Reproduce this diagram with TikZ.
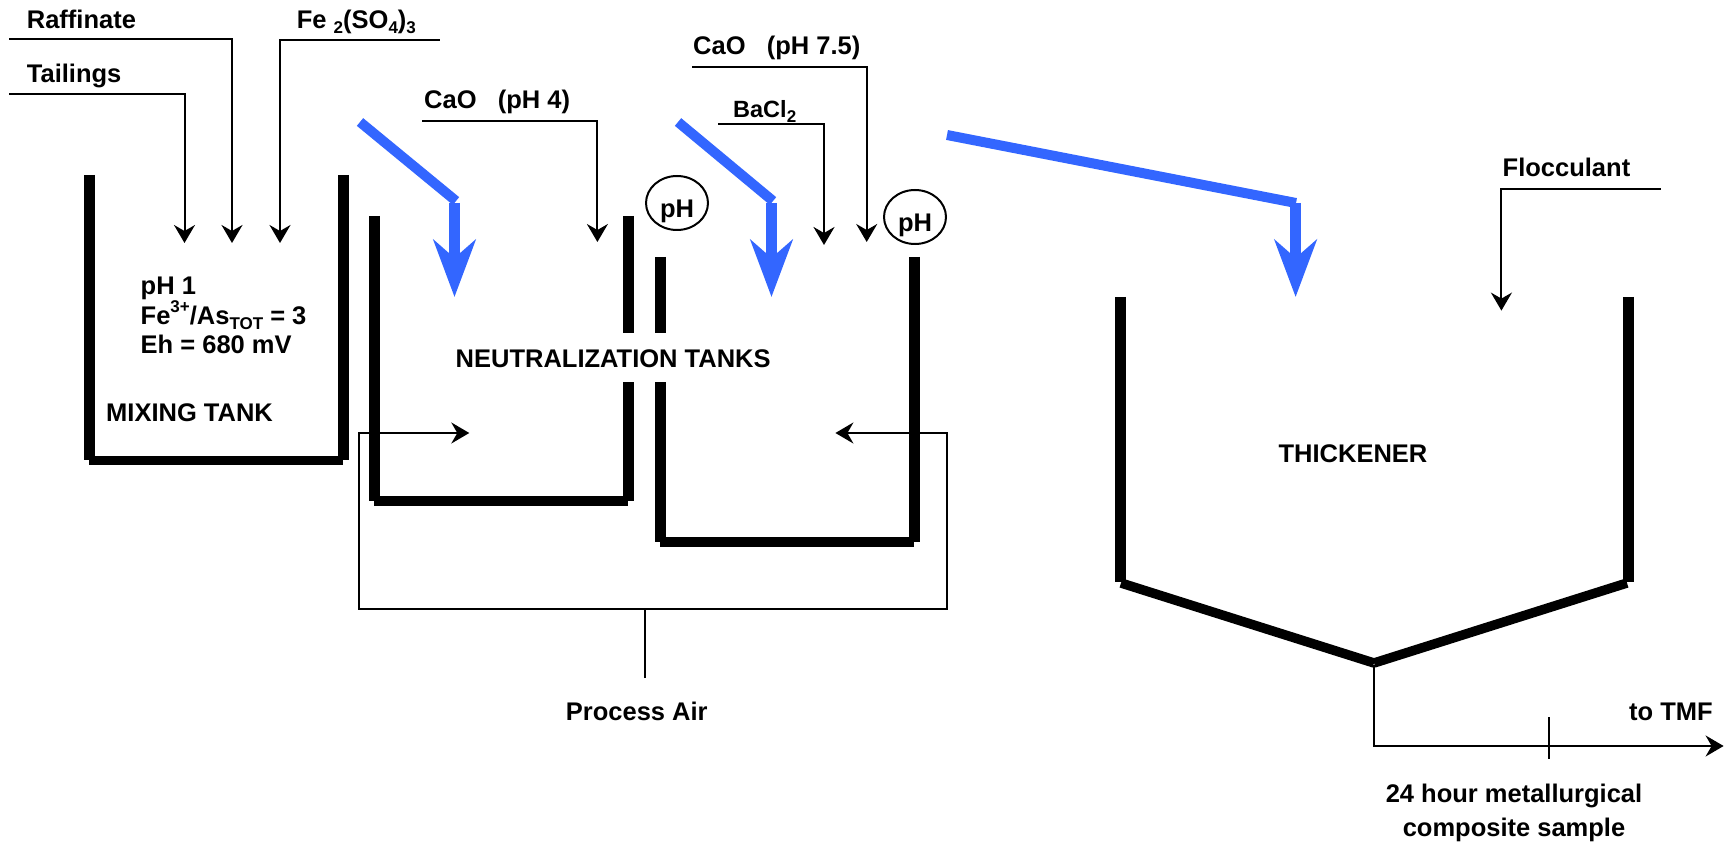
\documentclass[tikz,border=0pt]{standalone}
\usepackage{fontspec}
\setmainfont{Liberation Sans}
\usetikzlibrary{arrows.meta,shapes.geometric}

\definecolor{slurryblue}{HTML}{3366FF}
\newcommand{\lowtxt}[1]{\raisebox{-5.5pt}{\fontsize{17}{17}\selectfont #1}}
\newcommand{\hightxt}[1]{\raisebox{12pt}{\fontsize{17}{17}\selectfont #1}}

\tikzset{
	wall/.style={line width=11pt, black},
	tankfloor/.style={line width=9.5pt, black},
	feed/.style={line width=2pt, -{Stealth[length=18pt,width=21pt,inset=6pt]}},
	pipe/.style={line width=2pt},
	slurrydiag/.style={line width=10pt, slurryblue},
	slurrydrop/.style={line width=11pt, slurryblue, -{Stealth[length=57pt,width=42pt,inset=18pt]}},
	lbl/.style={inner sep=0pt, font=\bfseries\fontsize{25.5}{29.5}\selectfont},
	phring/.style={draw, line width=2pt, ellipse, minimum width=62pt, minimum height=54pt, inner sep=0pt,
		label={[lbl, yshift=-8pt]center:pH}}
}

\begin{document}
\begin{tikzpicture}[x=1pt, y=-1pt]
	\useasboundingbox (0,0) rectangle (1729,842);

	% Feed labels
	\node[lbl, anchor=base west] (raffinate) at (26.7,28.5) {Raffinate};
	\node[lbl, anchor=base west] (tailings) at (26.7,82.5) {Tailings};
	\node[lbl, anchor=base west] (ferric) at (296.7,28.5) {Fe \lowtxt{2}(SO\lowtxt{4})\lowtxt{3}};
	\node[lbl, anchor=base west] (caofour) at (424,109) {CaO~~~(pH 4)};
	\node[lbl, anchor=base west] (caoseven) at (693,55) {CaO~~~(pH 7.5)};
	\node[lbl, anchor=base west, font=\bfseries\fontsize{23.5}{27}\selectfont] (bacl) at (733,117.5) {BaCl\lowtxt{2}};
	\node[lbl, anchor=base west] (flocculant) at (1502.5,177) {Flocculant};

	% Feed lines
	\coordinate (tailstart) at (9,94);
	\coordinate (tailend) at (184.5,243);
	\coordinate (rafstart) at (9,39);
	\coordinate (rafend) at (232,243);
	\coordinate (ferstart) at (439.5,40);
	\coordinate (ferend) at (280,243);
	\coordinate (caofourstart) at (422,121);
	\coordinate (caofourend) at (597.4,242);
	\coordinate (barstart) at (718.4,124);
	\coordinate (barend) at (824,245);
	\coordinate (caosevenstart) at (692,67);
	\coordinate (caosevenend) at (866.7,242);
	\coordinate (flocstart) at (1660.6,189);
	\coordinate (flocend) at (1501.4,310.6);
	\draw[feed] (tailstart) -| (tailend);
	\draw[feed] (rafstart) -| (rafend);
	\draw[feed] (ferstart) -| (ferend);
	\draw[feed] (caofourstart) -| (caofourend);
	\draw[feed, line width=2.6pt] (barstart) -| (barend);
	\draw[feed] (caosevenstart) -| (caosevenend);
	\draw[feed] (flocstart) -| (flocend);

	% Mixing tank
	\draw[wall] (89.5,175) -- (89.5,460);
	\draw[wall] (343.5,175) -- (343.5,460);
	\draw[tankfloor] (89,460.5) -- (343,460.5);
	\node[lbl, anchor=north west, align=left] (mixdata) at (140.5,277) {pH 1\\Fe\hightxt{3+}/As\lowtxt{TOT} = 3\\Eh = 680 mV};
	\node[lbl, anchor=base west] (mixtank) at (106,421) {MIXING TANK};

	% Neutralization tanks
	\draw[wall] (374.5,216) -- (374.5,501);
	\draw[wall] (628.6,216) -- (628.6,333);
	\draw[wall] (628.6,382) -- (628.6,501);
	\draw[tankfloor] (374,501) -- (628,501);
	\draw[wall] (660.3,257) -- (660.3,333);
	\draw[wall] (660.3,382) -- (660.3,542);
	\draw[wall] (914.5,257) -- (914.5,542);
	\draw[tankfloor] (660,542) -- (914,542);
	\node[lbl, anchor=base west] (neutral) at (455.5,367.5) {NEUTRALIZATION TANKS};
	\node[phring] (phone) at (677,203) {};
	\node[phring] (phtwo) at (915,217) {};

	% Thickener
	\draw[wall] (1120,297) -- (1120,582);
	\draw[wall] (1628,297) -- (1628,582);
	\draw[tankfloor] (1121,583) -- (1374,663);
	\draw[tankfloor] (1627,583) -- (1374,663);
	\node[lbl, anchor=base] (thickener) at (1353,462.5) {THICKENER};

	% Slurry flow
	\draw[slurrydiag] (360,122) -- (456,201);
	\draw[slurrydrop] (454.5,203) -- (454.5,297);
	\draw[slurrydiag] (678,122) -- (773,201);
	\draw[slurrydrop] (771.5,203) -- (771.5,297);
	\draw[slurrydiag] (947,135) -- (1296,203);
	\draw[slurrydrop] (1295.6,203) -- (1295.6,297);

	% Process air
	\coordinate (airin) at (644.5,678);
	\coordinate (airjoin) at (644.5,609);
	\coordinate (airleft) at (359,433);
	\coordinate (airright) at (947,433);
	\coordinate (airlefttip) at (469.3,433);
	\coordinate (airrighttip) at (835.4,433);
	\draw[pipe] (airin) -- (airjoin);
	\draw[feed] (airjoin) -| (airleft) -- (airlefttip);
	\draw[feed] (airjoin) -| (airright) -- (airrighttip);
	\node[lbl, anchor=base] (processair) at (636.8,720) {Process Air};

	% Underflow
	\coordinate (apex) at (1374,665);
	\coordinate (tmfend) at (1723.6,746);
	\coordinate (tickup) at (1549,717);
	\coordinate (tickdown) at (1549,759);
	\draw[feed] (apex) |- (tmfend);
	\draw[pipe] (tickup) -- (tickdown);
	\node[lbl, anchor=base west] (tmf) at (1629,720.5) {to TMF};
	\node[lbl, anchor=north, align=center, font=\bfseries\fontsize{25.5}{34}\selectfont] (composite) at (1514,783.5) {24 hour metallurgical\\composite sample};
\end{tikzpicture}
\end{document}
